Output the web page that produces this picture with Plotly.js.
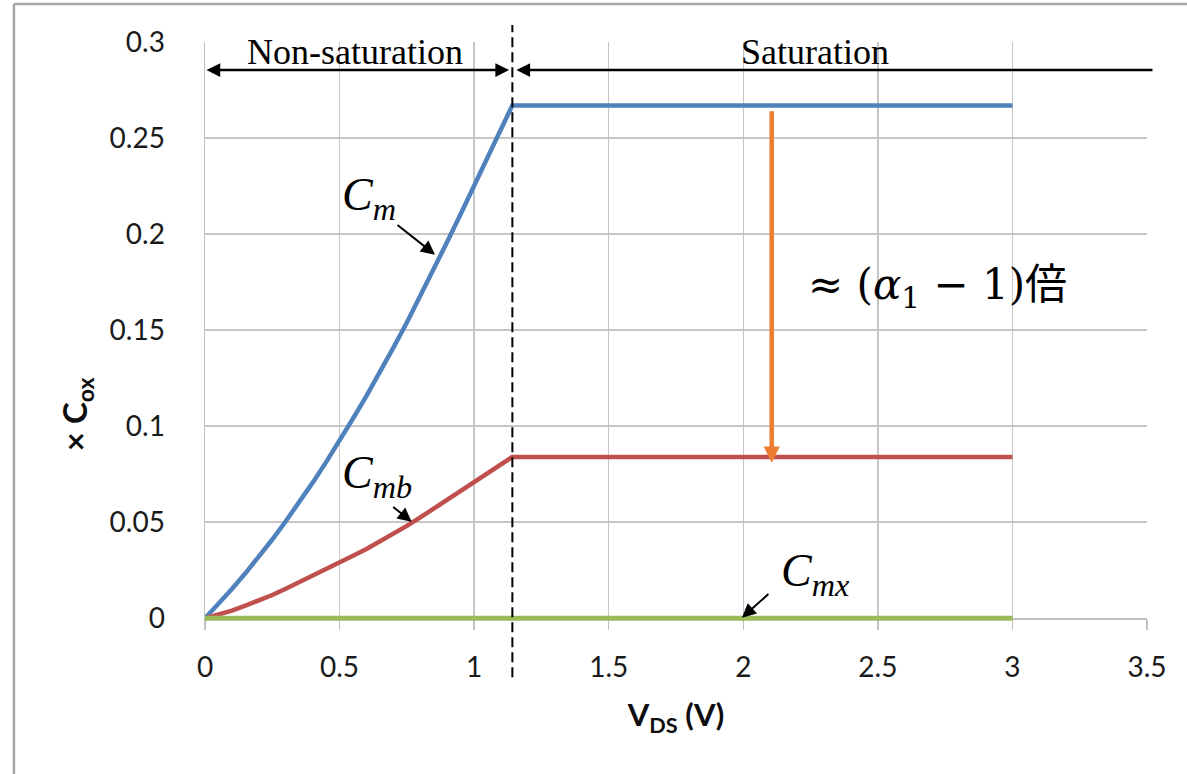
<!DOCTYPE html>
<html>
<head>
<meta charset="utf-8">
<script src="https://cdn.plot.ly/plotly-3.0.1.min.js"></script>
<style>html,body{margin:0;padding:0;background:#fff;}#chart{width:1187px;height:774px;}</style>
</head>
<body>
<div id="chart"></div>
<script>
// ---- data ----
const vds = [0, 0.05, 0.1, 0.15, 0.2, 0.25, 0.3, 0.35, 0.4, 0.45, 0.5, 0.55, 0.6, 0.65, 0.7, 0.75,
             0.8, 0.85, 0.9, 0.95, 1.0, 1.05, 1.1, 1.142, 3.0];
const cm  = [0, 0.0074, 0.0152, 0.0234, 0.032, 0.041, 0.0505, 0.0603, 0.0706, 0.0813, 0.0924, 0.104,
             0.1158, 0.1281, 0.1409, 0.154, 0.1676, 0.1816, 0.196, 0.2105, 0.2252, 0.2398, 0.2543, 0.267, 0.267];
const cmb = [0, 0.0019, 0.004, 0.0066, 0.0092, 0.0121, 0.0154, 0.0187, 0.0221, 0.0255, 0.029, 0.0325,
             0.0361, 0.0399, 0.0439, 0.0481, 0.0525, 0.0571, 0.0617, 0.0664, 0.0711, 0.0755, 0.0799, 0.084, 0.084];
const cmxX = [0, 3.0];
const cmx  = [0, 0];
const vdsat = 1.142;
const xTicks = [0, 0.5, 1, 1.5, 2, 2.5, 3, 3.5];
const yTicks = [0, 0.05, 0.1, 0.15, 0.2, 0.25, 0.3];
const yMin = -0.0035, yMax = 0.3;          // a sliver below 0 so the 0-level line is not cut
const regionY = 0.2854;
const regionLabelY = 0.295;
const ratioArrow = {x: 2.1056, from: 0.2647, to: 0.081};

const serif = '"Liberation Serif", "Times New Roman", serif';
const sans = 'Lato, "Open Sans", sans-serif';

const traces = [
  {x: vds, y: cm, mode: 'lines', name: 'Cm', line: {color: '#4F81BD', width: 4.5}},
  {x: vds, y: cmb, mode: 'lines', name: 'Cmb', line: {color: '#C0504D', width: 4.5}},
  {x: cmxX, y: cmx, mode: 'lines', name: 'Cmx', line: {color: '#9BBB59', width: 5}}
];

const annotations = [
  {x: 0.557, y: regionLabelY, xref: 'x', yref: 'y', text: 'Non-saturation', showarrow: false,
   font: {family: serif, size: 36, color: '#000'}, xanchor: 'center', yanchor: 'middle'},
  {x: 2.266, y: regionLabelY, xref: 'x', yref: 'y', text: 'Saturation', showarrow: false,
   font: {family: serif, size: 36, color: '#000'}, xanchor: 'center', yanchor: 'middle'},
  {x: vdsat - 0.012, y: regionY, ax: 0, ay: regionY, xref: 'x', yref: 'y', axref: 'x', ayref: 'y',
   text: '', showarrow: true, arrowside: 'end+start', arrowhead: 2, startarrowhead: 2,
   arrowsize: 1.1, startarrowsize: 1.1, arrowwidth: 2.5, arrowcolor: '#000', standoff: 0, startstandoff: 0},
  {x: vdsat + 0.015, y: regionY, ax: 3.526, ay: regionY, xref: 'x', yref: 'y', axref: 'x', ayref: 'y',
   text: '', showarrow: true, arrowhead: 2, arrowsize: 1.1, arrowwidth: 2.5, arrowcolor: '#000', standoff: 0},
  {x: 0.502, y: 0.2351, xref: 'x', yref: 'y', text: '<i>C<sub>m</sub></i>', showarrow: false,
   font: {family: serif, size: 46, color: '#000'}, xanchor: 'left', yanchor: 'top'},
  {x: 0.502, y: 0.0903, xref: 'x', yref: 'y', text: '<i>C<sub>mb</sub></i>', showarrow: false,
   font: {family: serif, size: 46, color: '#000'}, xanchor: 'left', yanchor: 'top'},
  {x: 2.133, y: 0.0393, xref: 'x', yref: 'y', text: '<i>C<sub>mx</sub></i>', showarrow: false,
   font: {family: serif, size: 46, color: '#000'}, xanchor: 'left', yanchor: 'top'},
  {x: 0.8546, y: 0.1893, ax: 0.7097, ay: 0.2054, xref: 'x', yref: 'y', axref: 'x', ayref: 'y',
   text: '', showarrow: true, arrowhead: 2, arrowsize: 1.4, arrowwidth: 2, arrowcolor: '#000', standoff: 0},
  {x: 0.768, y: 0.0502, ax: 0.6937, ay: 0.0586, xref: 'x', yref: 'y', axref: 'x', ayref: 'y',
   text: '', showarrow: true, arrowhead: 2, arrowsize: 1.4, arrowwidth: 2, arrowcolor: '#000', standoff: 0},
  {x: 1.995, y: 0.0003, ax: 2.099, ay: 0.0133, xref: 'x', yref: 'y', axref: 'x', ayref: 'y',
   text: '', showarrow: true, arrowhead: 2, arrowsize: 1.4, arrowwidth: 2, arrowcolor: '#000', standoff: 0},
  {x: ratioArrow.x, y: ratioArrow.to, ax: ratioArrow.x, ay: ratioArrow.from, xref: 'x', yref: 'y', axref: 'x', ayref: 'y',
   text: '', showarrow: true, arrowhead: 2, arrowsize: 0.72, arrowwidth: 4.5, arrowcolor: '#ED7D31', standoff: 0},
  {x: 2.722, y: 0.172, xref: 'x', yref: 'y', text: '≈ (<i>α</i><sub>1</sub> − 1)倍', showarrow: false,
   font: {family: '"DejaVu Serif", "Noto Sans CJK JP", serif', size: 42, color: '#000'}, xanchor: 'center', yanchor: 'middle'},
  {x: -0.137, y: 0.3616, xref: 'paper', yref: 'paper', text: '<b>× C<sub>ox</sub></b>', showarrow: false,
   textangle: -90, font: {family: sans, size: 33, color: '#0d0d0d'}, xanchor: 'center', yanchor: 'middle'}
];

const shapes = [
  {type: 'line', xref: 'x', yref: 'paper', x0: vdsat, x1: vdsat, y0: -0.0898, y1: 1.0292,
   line: {color: '#000', width: 2, dash: '10px,5px'}},
  {type: 'line', xref: 'paper', yref: 'paper', x0: -0.2028, x1: -0.2028, y0: -0.35, y1: 1.0652,
   line: {color: '#a6a6a6', width: 2.5}},
  {type: 'line', xref: 'paper', yref: 'paper', x0: -0.2028, x1: 1.1, y0: 1.0652, y1: 1.0652,
   line: {color: '#a6a6a6', width: 2.5}}
];

const layout = {
  width: 1187, height: 774,
  margin: {l: 205, r: 40, t: 42, b: 149.3},
  paper_bgcolor: '#fff', plot_bgcolor: '#fff',
  showlegend: false,
  xaxis: {
    range: [0, 3.5], tickvals: xTicks, ticktext: xTicks.map(String),
    anchor: 'free', position: (0 - yMin) / (yMax - yMin),
    showgrid: true, gridcolor: '#c6c6c6', gridwidth: 1.5,
    zeroline: false, showline: true, linecolor: '#c0c0c0', linewidth: 1.5,
    ticks: 'outside', ticklen: 10, tickcolor: '#c0c0c0', tickwidth: 1.5,
    ticklabelstandoff: 14, layer: 'below traces',
    tickfont: {family: sans, size: 28, color: '#1a1a1a'},
    title: {text: '<b>V<sub>DS</sub> (V)</b>', font: {family: sans, size: 31, color: '#0d0d0d'}, standoff: 22}
  },
  yaxis: {
    range: [yMin, yMax], tickvals: yTicks, ticktext: yTicks.map(String),
    showgrid: true, gridcolor: '#c6c6c6', gridwidth: 1.5,
    zeroline: false, showline: true, linecolor: '#c0c0c0', linewidth: 1.5,
    ticks: '', ticklabelstandoff: 33, layer: 'below traces',
    tickfont: {family: sans, size: 28, color: '#1a1a1a'}
  },
  annotations: annotations,
  shapes: shapes
};

Plotly.newPlot('chart', traces, layout, {staticPlot: true, displayModeBar: false});
</script>
</body>
</html>
